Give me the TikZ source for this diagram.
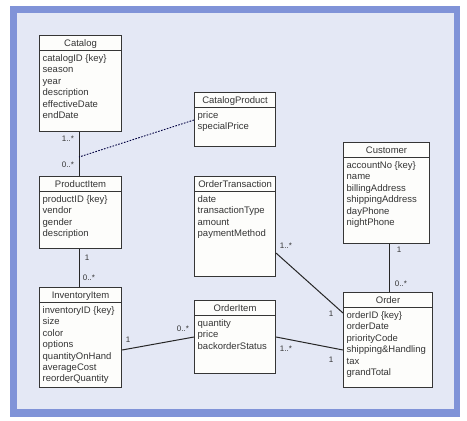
\documentclass[tikz,border=0pt]{standalone}
\usepackage{fontspec}
\setmainfont{Liberation Sans}
\usetikzlibrary{calc}
\definecolor{bgc}{HTML}{E4E8F5}
\definecolor{framec}{HTML}{8093D8}
\definecolor{txt}{HTML}{353535}
\definecolor{boxfill}{HTML}{FDFDFB}
\newcommand\umlclass[7]{%
  \node[umlbox, minimum width={(#4-#2)*1pt}, minimum height={(#5-#3)*1pt}, anchor=north west] (#1) at (#2,#3) {};
  \draw[umlline] ($(#1.north west)+(0,15)$) -- ($(#1.north east)+(0,15)$);
  \node[umltitle, anchor=base] (#1-t) at ($(#1.north)+(0,11)$) {#6};
  \foreach \a [count=\i] in {#7}
    \node[umlattr, anchor=base west] (#1-\i) at ($(#1.north west)+(3.5,{26.5+(\i-1)*11.4})$) {\a};
}
\begin{document}
\begin{tikzpicture}[x=1pt,y=-1pt,
  umlbox/.style={draw=txt, line width=1.1pt, fill=boxfill, inner sep=0pt, rectangle},
  umlline/.style={draw=txt, line width=1pt},
  umltitle/.style={font=\fontsize{9.5}{11}\selectfont, text=txt, inner sep=0pt},
  umlattr/.style={font=\fontsize{9.5}{11}\selectfont, text=txt, inner sep=0pt},
  mult/.style={font=\fontsize{8}{9}\selectfont, text=txt, inner sep=0pt},
  assoc/.style={draw=black!85, line width=1pt},
  dotassoc/.style={draw=black!75!blue, line width=0.9pt, dash pattern=on 1.6pt off 1.4pt}]
\useasboundingbox (0,0) rectangle (467,421);
\fill[framec] (10,6) rectangle (460,417);
\fill[bgc] (17,13) rectangle (454,409);

\umlclass{catalog}{39}{35}{121}{131}{Catalog}{catalogID \{key\},season,year,description,effectiveDate,endDate}
\umlclass{catprod}{194}{92}{275}{146}{CatalogProduct}{price,specialPrice}
\umlclass{customer}{343}{142}{429}{243}{Customer}{accountNo \{key\},name,billingAddress,shippingAddress,dayPhone,nightPhone}
\umlclass{prod}{39}{176}{121}{248}{ProductItem}{productID \{key\},vendor,gender,description}
\umlclass{otrans}{194}{176}{275}{276}{OrderTransaction}{date,transactionType,amount,paymentMethod}
\umlclass{inv}{39}{287}{121}{387}{InventoryItem}{inventoryID \{key\},size,color,options,quantityOnHand,averageCost,reorderQuantity}
\umlclass{oitem}{194}{300}{275}{373}{OrderItem}{quantity,price,backorderStatus}
\umlclass{order}{343}{292}{432}{387}{Order}{orderID \{key\},orderDate,priorityCode,shipping\&Handling,tax,grandTotal}

% associations
\draw[assoc] (catalog.south -| 79,0) -- (prod.north -| 79,0);
\coordinate (mid) at (79,157);
\draw[dotassoc] ([yshift=-28pt]catprod.north west) -- (mid);
\draw[assoc] (prod.south -| 79,0) -- (inv.north -| 79,0);
\draw[assoc] (customer.south -| 389,0) -- (order.north -| 389,0);
\draw[assoc] ([yshift=24pt]otrans.south east) -- ([yshift=-21pt]order.north west);
\draw[assoc] ([yshift=-63pt]inv.north east) -- ([yshift=-37pt]oitem.north west);
\draw[assoc] ([yshift=-37pt]oitem.north east) -- ([yshift=-58pt]order.north west);

% multiplicities
\node[mult] (m1) at (68,139) {1..*};
\node[mult] (m2) at (68,165) {0..*};
\node[mult] (m3) at (87,258) {1};
\node[mult] (m4) at (89,278) {0..*};
\node[mult] (m5) at (399,250) {1};
\node[mult] (m6) at (401,284) {0..*};
\node[mult] (m7) at (286,246) {1..*};
\node[mult] (m8) at (331,314) {1};
\node[mult] (m9) at (128,340) {1};
\node[mult] (m10) at (183,329) {0..*};
\node[mult] (m11) at (286,349) {1..*};
\node[mult] (m12) at (331,360) {1};
\end{tikzpicture}
\end{document}
